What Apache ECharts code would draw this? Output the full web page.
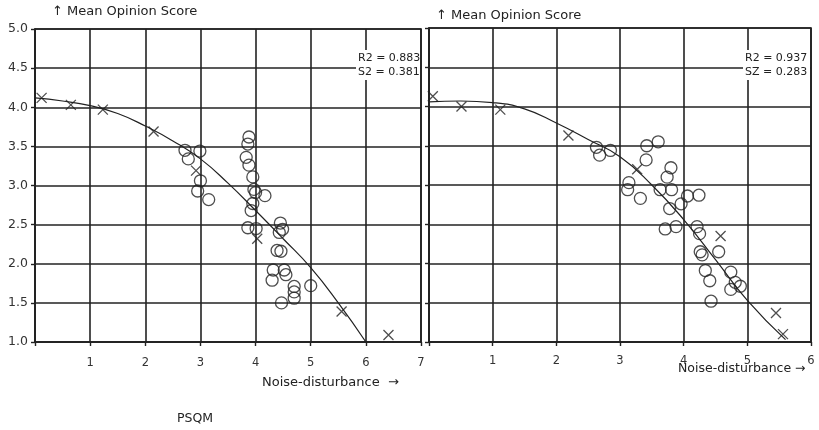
<!DOCTYPE html>
<html><head><meta charset="utf-8">
<script src="https://cdn.jsdelivr.net/npm/echarts@6/dist/echarts.min.js"></script>
<style>html,body{margin:0;background:#fff}#c{width:819px;height:430px}</style>
</head><body><div id="c"></div>
<script>
// ---- Left panel (PSQM) ----
const leftCross = [[0.12,4.12],[0.65,4.03],[1.23,3.97],[2.15,3.69],[2.92,3.19],[4.03,2.32],[5.56,1.39],[6.41,1.09]];
const leftCircle = [[2.72,3.45],[2.78,3.34],[2.99,3.44],[3.0,3.06],[2.95,2.93],[3.15,2.82],
  [3.88,3.62],[3.86,3.53],[3.83,3.36],[3.88,3.26],[3.95,3.11],[3.97,2.95],[4.0,2.91],[4.17,2.87],[3.95,2.77],[3.92,2.68],[3.86,2.46],[4.01,2.45],
  [4.45,2.52],[4.49,2.44],[4.43,2.4],[4.39,2.17],[4.46,2.16],[4.32,1.92],[4.52,1.92],[4.55,1.86],[4.3,1.79],[4.7,1.71],[4.7,1.64],[4.7,1.56],[5.0,1.72],[4.47,1.5]];
const leftCurve = [[0,4.12],[0.5,4.08],[1,4.02],[1.5,3.92],[2,3.76],[2.5,3.57],[3,3.34],[3.5,3.03],[4,2.68],[4.5,2.32],[5,1.95],[5.5,1.5],[6,1.0]];
const leftStats = ['R2 = 0.883', 'S2 = 0.381'];
const leftXTicks = [1,2,3,4,5,6,7];

// ---- Right panel ----
const rightCross = [[0.06,4.13],[0.51,4.0],[1.12,3.96],[2.19,3.63],[3.27,3.2],[4.58,2.35],[5.45,1.37],[5.56,1.1]];
const rightCircle = [[2.63,3.48],[2.68,3.38],[2.85,3.44],[3.42,3.5],[3.6,3.55],[3.41,3.32],[3.8,3.22],[3.74,3.1],[3.14,3.03],[3.12,2.94],[3.32,2.83],
  [3.63,2.94],[3.81,2.94],[4.06,2.86],[4.24,2.87],[3.96,2.76],[3.78,2.7],[3.71,2.44],[3.88,2.47],[4.21,2.47],[4.25,2.38],[4.26,2.15],[4.29,2.11],
  [4.55,2.15],[4.34,1.91],[4.41,1.78],[4.74,1.89],[4.81,1.76],[4.89,1.71],[4.74,1.67],[4.43,1.52]];
const rightCurve = [[0,4.06],[0.5,4.07],[1,4.05],[1.5,3.97],[2,3.79],[2.5,3.58],[3,3.36],[3.5,3.0],[4,2.56],[4.5,2.05],[5,1.53],[5.6,1.03]];
const rightStats = ['R2 = 0.937', 'SZ = 0.283'];
const rightXTicks = [1,2,3,4,5,6];

const yTicks = ['1.0','1.5','2.0','2.5','3.0','3.5','4.0','4.5','5.0'];

const ink = '#222';
const FONT = '"DejaVu Sans", "Liberation Sans", Arial, sans-serif';
const crossPath = 'path://M0,0L10,10M10,0L0,10';

function xAxis(idx, max, ticks, margin) {
  return {
    type: 'value', gridIndex: idx, min: 0, max: max, interval: 1,
    axisLine: {show: true, lineStyle: {color: ink, width: 1.7}},
    axisTick: {show: true, length: 4, lineStyle: {color: ink, width: 1.4}},
    splitLine: {show: true, lineStyle: {color: ink, width: 1.6}},
    axisLabel: {margin: margin, color: '#333', fontSize: 11.5, fontFamily: FONT,
      formatter: v => ticks.indexOf(v) >= 0 ? String(v) : ''}
  };
}
function yAxis(idx, showLabel) {
  return {
    type: 'value', gridIndex: idx, min: 1, max: 5, interval: 0.5,
    axisLine: {show: true, lineStyle: {color: ink, width: 1.7}},
    axisTick: {show: true, length: 4, lineStyle: {color: ink, width: 1.4}},
    splitLine: {show: true, lineStyle: {color: ink, width: 1.6}},
    axisLabel: {show: showLabel, margin: 7, color: '#333', fontSize: 12.5, fontFamily: FONT,
      formatter: v => yTicks[Math.round((v - 1) * 2)]}
  };
}
function marks(idx, curve, circles, crosses) {
  return [
    {type: 'line', xAxisIndex: idx, yAxisIndex: idx, data: curve, smooth: true, symbol: 'none',
      lineStyle: {color: ink, width: 1.2}, z: 3},
    {type: 'scatter', xAxisIndex: idx, yAxisIndex: idx, data: circles, symbol: 'circle', symbolSize: 12,
      itemStyle: {color: 'rgba(0,0,0,0)', borderColor: ink, borderWidth: 1.3}, z: 4},
    {type: 'scatter', xAxisIndex: idx, yAxisIndex: idx, data: crosses, symbol: crossPath, symbolSize: 10,
      itemStyle: {color: 'none', borderColor: ink, borderWidth: 1.3}, z: 4}
  ];
}

const chart = echarts.init(document.getElementById('c'), null, {renderer: 'canvas'});
chart.setOption({
  backgroundColor: '#fff',
  animation: false,
  grid: [
    {left: 35, top: 29, width: 386, height: 313, show: true, borderColor: ink, borderWidth: 1.7},
    {left: 429, top: 28, width: 382, height: 314, show: true, borderColor: ink, borderWidth: 1.7}
  ],
  xAxis: [xAxis(0, 7, leftXTicks, 15), xAxis(1, 6, rightXTicks, 13)],
  yAxis: [yAxis(0, true), yAxis(1, false)],
  series: [...marks(0, leftCurve, leftCircle, leftCross), ...marks(1, rightCurve, rightCircle, rightCross)],
  graphic: [
    {type: 'text', left: 52, top: 5, z: 100, style: {text: '\u2191 Mean Opinion Score', font: '13px ' + FONT, fill: ink}},
    {type: 'text', left: 436, top: 9, z: 100, style: {text: '\u2191 Mean Opinion Score', font: '13px ' + FONT, fill: ink}},
    {type: 'rect', z: 99, shape: {x: 356, y: 50, width: 64, height: 30}, style: {fill: '#fff'}},
    {type: 'text', left: 358, top: 51, z: 100, style: {text: leftStats.join('\n'), font: '11px ' + FONT, fill: ink, lineHeight: 14}},
    {type: 'rect', z: 99, shape: {x: 743, y: 50, width: 67, height: 30}, style: {fill: '#fff'}},
    {type: 'text', left: 745, top: 51, z: 100, style: {text: rightStats.join('\n'), font: '11px ' + FONT, fill: ink, lineHeight: 14}},
    {type: 'text', left: 262, top: 376, z: 100, style: {text: 'Noise-disturbance  \u2192', font: '13px ' + FONT, fill: ink}},
    {type: 'text', left: 678, top: 362, z: 100, style: {text: 'Noise-disturbance \u2192', font: '12.5px ' + FONT, fill: ink}},
    {type: 'text', left: 177, top: 412, z: 100, style: {text: 'PSQM', font: '12.5px ' + FONT, fill: ink}}
  ]
});
</script>
</body></html>
